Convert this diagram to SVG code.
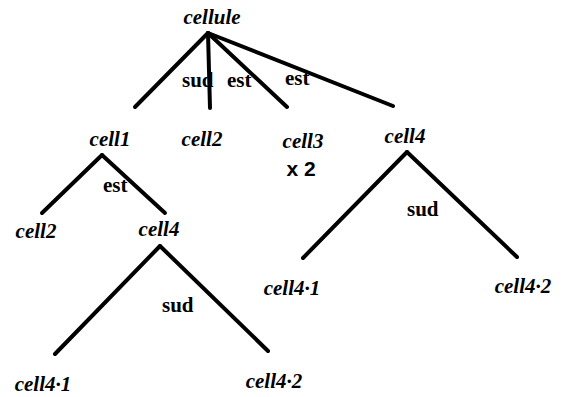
<svg xmlns="http://www.w3.org/2000/svg" width="573" height="397" viewBox="0 0 573 397">
<style>
.n{font-family:"Liberation Serif","DejaVu Serif",serif;font-style:italic;font-weight:bold;font-size:21px;fill:#000;text-anchor:middle}
.e{stroke:#000;stroke-width:4;stroke-linecap:round;fill:none}
.l{font-family:"Liberation Serif","DejaVu Serif",serif;font-weight:bold;font-size:21px;fill:#000}
.m{font-family:"Liberation Sans",Arial,sans-serif;font-weight:bold;font-size:21px;fill:#000;text-anchor:middle}
</style>
<rect width="573" height="397" fill="#fff"/>
<g id="connectors">
<line class="e" x1="208" y1="33" x2="135" y2="107"/>
<line class="e" x1="208" y1="33" x2="210" y2="108"/>
<line class="e" x1="208" y1="33" x2="287" y2="107"/>
<line class="e" x1="208" y1="33" x2="393" y2="106"/>
<line class="e" x1="102" y1="155" x2="42" y2="213"/>
<line class="e" x1="102" y1="155" x2="165" y2="213"/>
<line class="e" x1="160" y1="246" x2="55" y2="354"/>
<line class="e" x1="160" y1="246" x2="268" y2="351"/>
<line class="e" x1="407" y1="152" x2="303" y2="258"/>
<line class="e" x1="407" y1="152" x2="517" y2="257"/>
<text class="l" x="182" y="87">sud</text>
<text class="l" x="227" y="87">est</text>
<text class="l" x="285" y="85">est</text>
<text class="l" x="103" y="192">est</text>
<text class="l" x="407" y="216">sud</text>
<text class="l" x="162" y="312">sud</text>
</g>
<g id="cellule"><text class="n" x="212" y="24">cellule</text></g>
<g id="cell1"><text class="n" x="110" y="146">cell1</text></g>
<g id="cell2-top"><text class="n" x="202" y="146">cell2</text></g>
<g id="cell3"><text class="n" x="303" y="148">cell3</text><text class="m" x="301" y="176">x 2</text></g>
<g id="cell4-top"><text class="n" x="405" y="143">cell4</text></g>
<g id="cell2-left"><text class="n" x="36" y="238">cell2</text></g>
<g id="cell4-left"><text class="n" x="159" y="236">cell4</text></g>
<g id="cell4-1-right"><text class="n" x="292" y="295">cell4·1</text></g>
<g id="cell4-2-right"><text class="n" x="523" y="293">cell4·2</text></g>
<g id="cell4-1-lower"><text class="n" x="43" y="391">cell4·1</text></g>
<g id="cell4-2-lower"><text class="n" x="274" y="388">cell4·2</text></g>
</svg>
